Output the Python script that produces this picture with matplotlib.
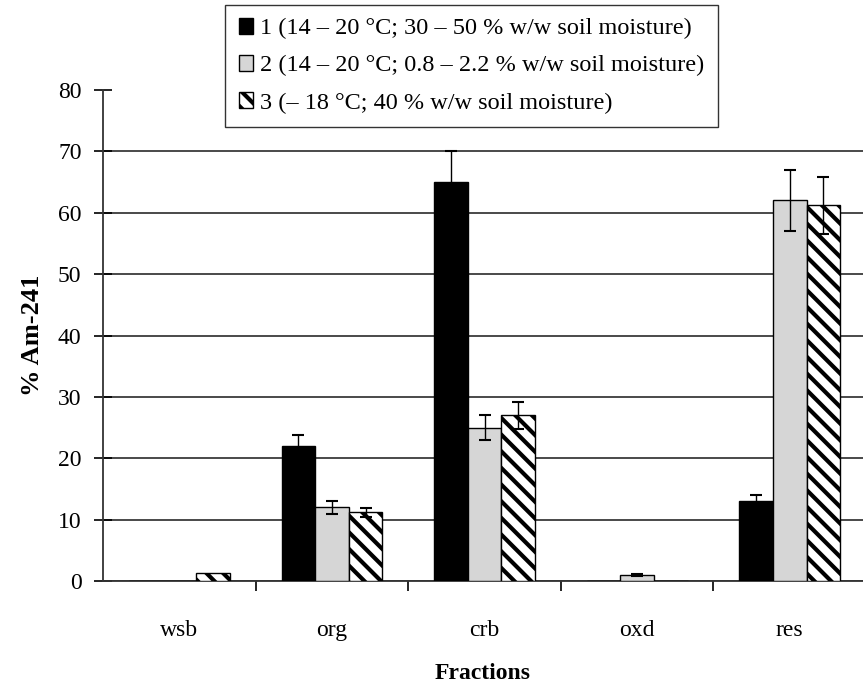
import matplotlib
matplotlib.use("Agg")
import matplotlib.pyplot as plt
import numpy as np

plt.rcParams['font.family'] = ['Liberation Serif', 'DejaVu Serif']
plt.rcParams['hatch.linewidth'] = 3.0

# Fracciones de la extracción secuencial
fractions = ["wsb", "org", "crb", "oxd", "res"]

# % Am-241 por fracción y su error
series_labels = [
    "1 (14 \u2013 20 \u00b0C; 30 \u2013 50 % w/w soil moisture)",
    "2 (14 \u2013 20 \u00b0C; 0.8 \u2013 2.2 % w/w soil moisture)",
    "3 (\u2013 18 \u00b0C; 40 % w/w soil moisture)",
]
vals_1 = [0.0, 22.0, 65.0, 0.0, 13.1]
err_1 = [0.0, 1.8, 5.1, 0.0, 0.9]
vals_2 = [0.0, 12.0, 25.0, 1.0, 62.0]
err_2 = [0.0, 1.0, 2.0, 0.2, 5.0]
vals_3 = [1.3, 11.2, 27.0, 0.0, 61.2]
err_3 = [0.0, 0.7, 2.2, 0.0, 4.6]

yticks = np.arange(0, 81, 10)

fig = plt.figure(figsize=(8.63, 6.83), dpi=100)
ax = fig.add_axes([0.1194, 0.1493, 0.8806, 0.7189])

x = np.arange(len(fractions))
w = 0.22
styles = [
    dict(color="black", hatch=None),
    dict(color="#d6d6d6", hatch=None),
    dict(color="white", hatch="\\\\"),
]
series = [(vals_1, err_1), (vals_2, err_2), (vals_3, err_3)]

# Barras con barras de error
for k, ((v, e), st, lab) in enumerate(zip(series, styles, series_labels)):
    pos = x + (k - 1) * w
    ax.bar(pos, v, w, color=st["color"], edgecolor="black",
           hatch=st["hatch"], linewidth=1.0, label=lab, zorder=3)
    mask = np.array(e) > 0
    ax.errorbar(pos[mask], np.array(v)[mask], yerr=np.array(e)[mask],
                fmt="none", ecolor="black", elinewidth=1.0, capsize=4,
                capthick=1.5, zorder=4)

ax.set_xlim(-0.5, 4.48)
ax.set_ylim(0, 80)
ax.set_yticks(yticks)
ax.yaxis.grid(True, color="#3a3a3a", linewidth=1.3, zorder=0)
ax.get_ygridlines()[-1].set_visible(False)
ax.set_axisbelow(True)

# Marcas en los límites de cada categoría, etiquetas en el centro
ax.set_xticks(np.arange(0.5, 4.0, 1.0))
ax.set_xticklabels([])
ax.set_xticks(x, minor=True)
ax.set_xticklabels(fractions, minor=True)
ax.tick_params(axis="x", which="major", direction="out", length=7, width=1.2)
ax.tick_params(axis="x", which="minor", length=0, pad=28, labelsize=17)
ax.tick_params(axis="y", direction="inout", length=13, width=1.2, labelsize=17, pad=9)

for s in ["top", "right"]:
    ax.spines[s].set_visible(False)
ax.spines["left"].set_linewidth(1.3)
ax.spines["bottom"].set_linewidth(1.3)
ax.spines["left"].set_color("#333333")
ax.spines["bottom"].set_color("#333333")

ax.set_ylabel("% Am-241", fontsize=19, fontweight="bold", labelpad=10)
ax.set_xlabel("Fractions", fontsize=17, fontweight="bold", labelpad=16)

leg = fig.legend(loc="upper left", bbox_to_anchor=(0.261, 0.993),
                 fontsize=17.5, frameon=True, fancybox=False, edgecolor="black",
                 handlelength=0.6, handleheight=0.6, handletextpad=0.3,
                 labelspacing=0.65, borderpad=0.55, borderaxespad=0)
leg.get_frame().set_linewidth(1.0)

fig.savefig("out.png", dpi=100)
